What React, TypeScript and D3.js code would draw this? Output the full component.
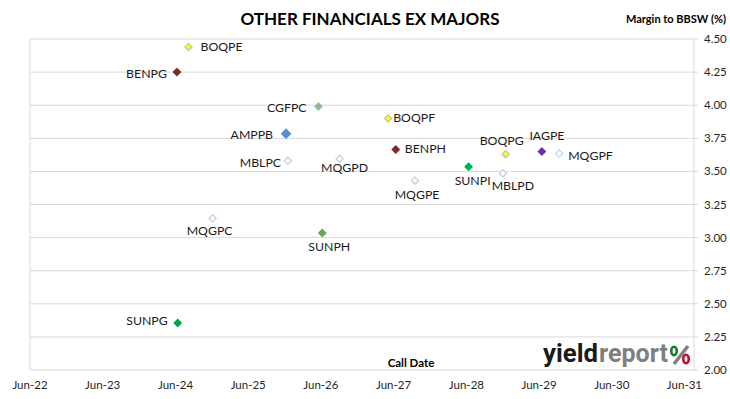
import React from "react"
import * as d3 from "d3"

const names = ["BOQPE", "BENPG", "CGFPC", "AMPPB", "MBLPC", "MQGPD", "BOQPF", "BENPH", "BOQPG", "IAGPE", "MQGPF", "SUNPI", "MBLPD", "MQGPE", "MQGPC", "SUNPH", "SUNPG"]
const callDates = ["2024-08-05", "2024-06-08", "2026-05-20", "2025-12-08", "2025-12-18", "2026-09-03", "2027-05-05", "2027-06-12", "2028-12-15", "2029-06-15", "2029-09-10", "2028-06-12", "2028-12-01", "2027-09-17", "2024-12-04", "2026-06-08", "2024-06-12"]
const margins = [4.44, 4.25, 3.99, 3.785, 3.58, 3.595, 3.9, 3.665, 3.63, 3.65, 3.635, 3.535, 3.485, 3.43, 3.145, 3.035, 2.355]
const yTicks = [2.0, 2.25, 2.5, 2.75, 3.0, 3.25, 3.5, 3.75, 4.0, 4.25, 4.5]
const xTickYears = [2022, 2023, 2024, 2025, 2026, 2027, 2028, 2029, 2030, 2031]

// marker look per security
const fills = {
	BOQPE: "#ffff00", BENPG: "#7b2a2a", CGFPC: "#9bbb59", AMPPB: "#558ed5", MBLPC: "#ffffff",
	MQGPD: "#ffffff", BOQPF: "#ffff00", BENPH: "#7b2a2a", BOQPG: "#ffff00", IAGPE: "#7030a0",
	MQGPF: "#ffffff", SUNPI: "#00b050", MBLPD: "#ffffff", MQGPE: "#ffffff", MQGPC: "#ffffff",
	SUNPH: "#6aa84f", SUNPG: "#00a050",
}
const strokes = {
	BOQPE: "#b4c0d8", BENPG: "#7b2a2a", CGFPC: "#8eb4e3", AMPPB: "#558ed5", MBLPC: "#b9cde5",
	MQGPD: "#b9cde5", BOQPF: "#bfbfbf", BENPH: "#7b2a2a", BOQPG: "#bfbfbf", IAGPE: "#7030a0",
	MQGPF: "#c6d4ea", SUNPI: "#00b050", MBLPD: "#b9cde5", MQGPE: "#b9cde5", MQGPC: "#b9cde5",
	SUNPH: "#6aa84f", SUNPG: "#00a050",
}
// data label placement: [anchor, dx, dy] from the marker
const labelPos = {
	BOQPE: ["start", 12, 4], BENPG: ["end", -10, 6], CGFPC: ["end", -12, 5], AMPPB: ["end", -13, 5],
	MBLPC: ["end", -7, 6], MQGPD: ["middle", 5, 13], BOQPF: ["start", 5, 4], BENPH: ["start", 9, 3],
	BOQPG: ["middle", -4, -9], IAGPE: ["middle", 5, -12], MQGPF: ["start", 9, 6], SUNPI: ["middle", 4, 18],
	MBLPD: ["middle", 10, 17], MQGPE: ["middle", 2, 18], MQGPC: ["middle", -3, 17], SUNPH: ["middle", 7, 18],
	SUNPG: ["end", -10, 2],
}

const W = 730
const H = 399
const left = 30
const right = 694
const top = 39
const bottom = 370
const font = "Lato, 'Open Sans', sans-serif"
const parse = d3.timeParse("%Y-%m-%d")

const App = () => {
	const x = d3
		.scaleTime()
		.domain([new Date(2022, 5, 1), new Date(2031, 6, 19)])
		.range([left, right])
	const y = d3.scaleLinear().domain([2, 4.5]).range([bottom, top])
	const fmt = d3.timeFormat("%b-%y")

	const points = names.map((n, i) => ({
		name: n,
		cx: x(parse(callDates[i])),
		cy: y(margins[i]),
	}))

	const diamond = (cx, cy, r) => `M${cx},${cy - r}L${cx + r},${cy}L${cx},${cy + r}L${cx - r},${cy}Z`

	return (
		<svg width={W} height={H} style={{ position: "absolute", left: 0, top: 0, background: "#fff" }} fontFamily={font}>
			{/* gridlines */}
			{yTicks.map(t => (
				<line key={t} x1={left} x2={right} y1={y(t)} y2={y(t)} stroke="#d9d9d9" strokeWidth={1} />
			))}
			<line x1={left} x2={left} y1={top} y2={bottom} stroke="#d9d9d9" />
			<line x1={right} x2={right} y1={top} y2={bottom} stroke="#d9d9d9" />
			{yTicks.map(t => (
				<g key={"yt" + t}>
					<line x1={right} x2={right + 4} y1={y(t)} y2={y(t)} stroke="#d9d9d9" />
					<text x={704} y={y(t) + 4} fontSize={11.5} fill="#262626">{t.toFixed(2)}</text>
				</g>
			))}
			{xTickYears.map(yr => {
				const d = new Date(yr, 5, 1)
				return (
					<text key={yr} x={x(d)} y={389} fontSize={11.5} fill="#262626" textAnchor="middle">{fmt(d)}</text>
				)
			})}

			{/* points */}
			{points.map(p => {
				const r = p.name === "AMPPB" ? 4.5 : 3.6
				return (
					<path key={p.name} d={diamond(p.cx, p.cy, r)} fill={fills[p.name]} stroke={strokes[p.name]} strokeWidth={1.2} />
				)
			})}
			{points.map(p => {
				const [anchor, dx, dy] = labelPos[p.name]
				return (
					<text key={"l" + p.name} x={p.cx + dx} y={p.cy + dy} fontSize={12.3} fill="#1a1a1a" textAnchor={anchor}>{p.name}</text>
				)
			})}

			{/* titles */}
			<text x={370} y={25} fontSize={17} fontWeight="bold" textAnchor="middle" fill="#000">OTHER FINANCIALS EX MAJORS</text>
			<text x={726} y={23} fontSize={11} fontWeight="bold" textAnchor="end" fill="#000">Margin to BBSW (%)</text>
			<text x={411} y={367} fontSize={11.5} fontWeight="bold" textAnchor="middle" fill="#000">Call Date</text>

			{/* watermark */}
			<g fontFamily="Roboto, sans-serif" fontWeight="bold" fontSize={26}>
				<text x={543} y={362} textLength={55} lengthAdjust="spacingAndGlyphs" fill="#1a1a1a">yield</text>
				<text x={599} y={362} textLength={69} lengthAdjust="spacingAndGlyphs" fill="#7f7f7f">report</text>
			</g>
			<line x1={688} y1={346} x2={674} y2={364} stroke="#7f7f7f" strokeWidth={3.5} />
			<ellipse cx={674} cy={351} rx={2.8} ry={4.2} fill="none" stroke="#1e7a34" strokeWidth={2.6} />
			<ellipse cx={686} cy={359} rx={2.8} ry={4.2} fill="none" stroke="#c8102e" strokeWidth={2.6} />
		</svg>
	)
}

export default App
